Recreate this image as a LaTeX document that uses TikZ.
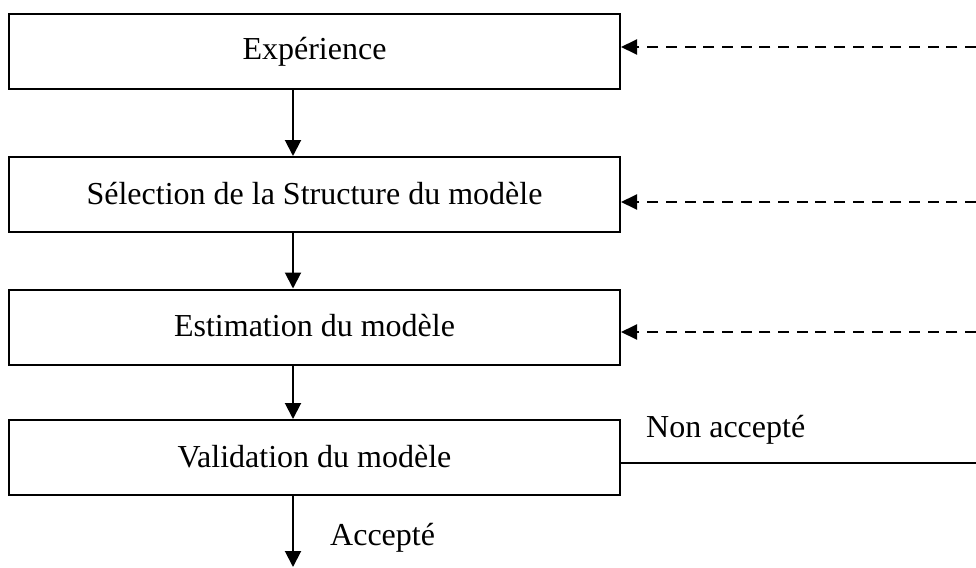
\documentclass[tikz,border=0pt]{standalone}
\usepackage{fontspec}
\setmainfont{Liberation Serif}
\usetikzlibrary{arrows.meta}
\begin{document}
\begin{tikzpicture}[x=1pt,y=-1pt,
  stepbox/.style={draw, line width=2pt, minimum width=611pt, minimum height=75pt,
    inner sep=0pt, font=\fontsize{32}{38}\selectfont},
  lbl/.style={font=\fontsize{32}{38}\selectfont, inner sep=0pt},
  flow/.style={line width=2pt, -{Triangle[length=16pt,width=16pt]}},
  feedback/.style={line width=2pt, dash pattern=on 11pt off 7.7pt,
    -{Triangle[length=16pt,width=15pt]}},
  plain/.style={line width=2pt}]
\useasboundingbox (0,0) rectangle (976,567);

% the four stages of the procedure
\node[stepbox] (b1) at (314.5,51.5) {\raisebox{3pt}{Expérience}};
\node[stepbox] (b2) at (314.5,194.5) {\raisebox{3pt}{Sélection de la Structure du modèle}};
\node[stepbox] (b3) at (314.5,327) {\raisebox{3pt}{Estimation du modèle}};
\node[stepbox] (b4) at (314.5,457.5) {\raisebox{3pt}{Validation du modèle}};

% downward flow between stages
\draw[flow] ([xshift=-21.5pt]b1.south) -- ([xshift=-21.5pt]b2.north);
\draw[flow] ([xshift=-21.5pt]b2.south) -- ([xshift=-21.5pt]b3.north);
\draw[flow] ([xshift=-21.5pt]b3.south) -- ([xshift=-21.5pt]b4.north);
\coordinate (out) at (293,567);
\draw[flow] ([xshift=-21.5pt]b4.south) -- (out);
\node[lbl, anchor=base west] (acc) at (330,545) {Accepté};

% feedback returning from the right
\coordinate (f1) at (976,47);
\coordinate (f2) at (976,202);
\coordinate (f3) at (976,332);
\coordinate (f4) at (976,463);
\draw[feedback] (f1) -- (f1 -| b1.east);
\draw[feedback] (f2) -- (f2 -| b2.east);
\draw[feedback] (f3) -- (f3 -| b3.east);
\draw[plain] (f4 -| b4.east) -- (f4);
\node[lbl, anchor=base west] (nacc) at (646,437) {Non accepté};
\end{tikzpicture}
\end{document}
